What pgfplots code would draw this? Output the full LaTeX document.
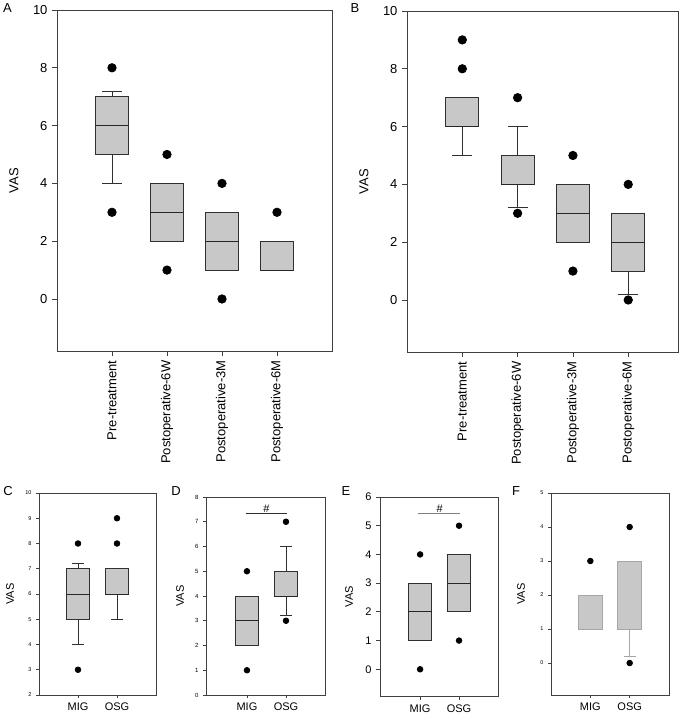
\documentclass[border=0pt]{standalone}
\usepackage{fontspec}
\setmainfont{Liberation Sans}
\usepackage{pgfplots}
\pgfplotsset{compat=1.18}
\usepgfplotslibrary{statistics}
\definecolor{boxfill}{HTML}{C8C8C8}
\definecolor{boxdraw}{HTML}{303030}
\definecolor{axisgray}{HTML}{404040}
\pgfplotsset{
  panel/.style={
    scale only axis, clip=false,
    axis line style={draw=axisgray, line width=0.8pt},
    tick style={draw=axisgray, line width=0.8pt},
    major tick length=5pt, tick align=outside,
    xtick pos=left, ytick pos=left,
    /pgf/number format/assume math mode=true,
    xtick={0,1,2,3},
    every axis y label/.style={at={(axis description cs:0,0.5)}, rotate=90, anchor=center},
  },
  mybox/.style={
    solid, draw=boxdraw, line width=0.8pt,
    mark=*, mark size=4.2pt, mark options={fill=black, draw=black, solid},
  },
  smallbox/.style={mybox, mark size=2.8pt},
  boxplot/bx/.style={
    draw direction=y,
    box extend=0.6, whisker extend=0.36,
    every box/.style={fill=boxfill, draw=boxdraw, line width=0.9pt},
    every median/.style={draw=black!85, line width=0.8pt},
    every whisker/.style={draw=boxdraw, line width=0.8pt},
  },
  boxplot/sbx/.style={bx, whisker extend=0.3},
  boxplot/fbx/.style={bx, whisker extend=0.3,
    every box/.style={fill=boxfill, draw=gray!70, line width=0.8pt},
    every whisker/.style={draw=gray!70, line width=0.8pt},
    every median/.style={draw=gray!70, line width=0.8pt},
  },
}
\begin{document}
\begin{tikzpicture}
\useasboundingbox (0pt,0pt) rectangle (688pt,720pt);
\fontsize{13}{15}\selectfont
% panel letters
\node at (7.5pt,712pt) {A};
\node at (355pt,712pt) {B};
\node at (8pt,229pt) {C};
\node at (176pt,229pt) {D};
\node at (346pt,229pt) {E};
\node at (516pt,229pt) {F};

% ---------- A ----------
\begin{axis}[panel, at={(57pt,369pt)}, anchor=south west,
  width=275pt, height=341pt, xmin=-1, xmax=4, ymin=-1.8, ymax=10,
  ytick={0,2,4,6,8,10},
  xticklabels={Pre-treatment,Postoperative-6W,Postoperative-3M,Postoperative-6M},
  xticklabel style={rotate=90, anchor=east, font=\fontsize{13}{15}\selectfont},
  yticklabel style={font=\fontsize{13}{15}\selectfont},
  ylabel={VAS}, ylabel style={yshift=43pt, font=\fontsize{13}{15}\selectfont}]
\addplot[mybox, boxplot prepared={bx, draw position=0, lower whisker=4, lower quartile=5, median=6, upper quartile=7, upper whisker=7.2}] coordinates {(0,3) (0,8)};
\addplot[mybox, boxplot prepared={bx, draw position=1, lower whisker=2, lower quartile=2, median=3, upper quartile=4, upper whisker=4}] coordinates {(1,1) (1,5)};
\addplot[mybox, boxplot prepared={bx, draw position=2, lower whisker=1, lower quartile=1, median=2, upper quartile=3, upper whisker=3}] coordinates {(2,0) (2,4)};
\addplot[mybox, boxplot prepared={bx, draw position=3, lower whisker=1, lower quartile=1, median=1, upper quartile=2, upper whisker=2}] coordinates {(3,3)};
\end{axis}

% ---------- B ----------
\begin{axis}[panel, at={(407pt,368pt)}, anchor=south west,
  width=271pt, height=341pt, xmin=-1, xmax=3.9, ymin=-1.8, ymax=10,
  ytick={0,2,4,6,8,10},
  xticklabels={Pre-treatment,Postoperative-6W,Postoperative-3M,Postoperative-6M},
  xticklabel style={rotate=90, anchor=east, font=\fontsize{13}{15}\selectfont},
  yticklabel style={font=\fontsize{13}{15}\selectfont},
  ylabel={VAS}, ylabel style={yshift=43pt, font=\fontsize{13}{15}\selectfont}]
\addplot[mybox, boxplot prepared={bx, draw position=0, lower whisker=5, lower quartile=6, median=6, upper quartile=7, upper whisker=7}] coordinates {(0,8) (0,9)};
\addplot[mybox, boxplot prepared={bx, draw position=1, lower whisker=3.2, lower quartile=4, median=4, upper quartile=5, upper whisker=6}] coordinates {(1,3) (1,7)};
\addplot[mybox, boxplot prepared={bx, draw position=2, lower whisker=2, lower quartile=2, median=3, upper quartile=4, upper whisker=4}] coordinates {(2,1) (2,5)};
\addplot[mybox, boxplot prepared={bx, draw position=3, lower whisker=0.2, lower quartile=1, median=2, upper quartile=3, upper whisker=3}] coordinates {(3,0) (3,4)};
\end{axis}

% ---------- C ----------
\begin{axis}[panel, at={(39pt,25pt)}, anchor=south west,
  width=117pt, height=202pt, xmin=-1, xmax=2, ymin=2, ymax=10,
  ytick={2,3,...,10}, major tick length=3pt,
  xtick={0,1}, xticklabels={MIG,OSG},
  xticklabel style={font=\fontsize{11}{13}\selectfont},
  yticklabel style={font=\fontsize{5.5}{7}\selectfont},
  ylabel={VAS}, ylabel style={yshift=29pt, font=\fontsize{11}{13}\selectfont}]
\addplot[smallbox, boxplot prepared={sbx, draw position=0, lower whisker=4, lower quartile=5, median=6, upper quartile=7, upper whisker=7.2}] coordinates {(0,3) (0,8)};
\addplot[smallbox, boxplot prepared={sbx, draw position=1, lower whisker=5, lower quartile=6, median=6, upper quartile=7, upper whisker=7}] coordinates {(1,8) (1,9)};
\end{axis}

% ---------- D ----------
\begin{axis}[panel, at={(206pt,25pt)}, anchor=south west,
  width=119pt, height=198pt, xmin=-1.05, xmax=2, ymin=0, ymax=8,
  ytick={0,1,...,8}, major tick length=3pt,
  xtick={0,1}, xticklabels={MIG,OSG},
  xticklabel style={font=\fontsize{11}{13}\selectfont},
  yticklabel style={font=\fontsize{6}{7}\selectfont},
  ylabel={VAS}, ylabel style={yshift=26pt, font=\fontsize{11}{13}\selectfont}]
\addplot[smallbox, boxplot prepared={sbx, draw position=0, lower whisker=2, lower quartile=2, median=3, upper quartile=4, upper whisker=4}] coordinates {(0,1) (0,5)};
\addplot[smallbox, boxplot prepared={sbx, draw position=1, lower whisker=3.2, lower quartile=4, median=4, upper quartile=5, upper whisker=6}] coordinates {(1,3) (1,7)};
\addplot[draw=boxdraw, line width=0.8pt, no marks] coordinates {(-0.02,7.32) (1.02,7.32)};
\node[above, inner sep=1pt, font=\fontsize{11}{13}\selectfont] at (axis cs:0.5,7.32) {\#};
\end{axis}

% ---------- E ----------
\begin{axis}[panel, at={(380pt,24pt)}, anchor=south west,
  width=118pt, height=199pt, xmin=-1.03, xmax=2, ymin=-0.93, ymax=6,
  ytick={0,1,...,6}, major tick length=4pt,
  xtick={0,1}, xticklabels={MIG,OSG},
  xticklabel style={font=\fontsize{11}{13}\selectfont},
  yticklabel style={font=\fontsize{11}{13}\selectfont},
  ylabel={VAS}, ylabel style={yshift=31pt, font=\fontsize{11}{13}\selectfont}]
\addplot[smallbox, boxplot prepared={sbx, draw position=0, lower whisker=1, lower quartile=1, median=2, upper quartile=3, upper whisker=3}] coordinates {(0,0) (0,4)};
\addplot[smallbox, boxplot prepared={sbx, draw position=1, lower whisker=2, lower quartile=2, median=3, upper quartile=4, upper whisker=4}] coordinates {(1,1) (1,5)};
\addplot[draw=gray, line width=0.8pt, no marks] coordinates {(-0.05,5.43) (1.02,5.43)};
\node[above, inner sep=1pt, font=\fontsize{11}{13}\selectfont] at (axis cs:0.5,5.43) {\#};
\end{axis}

% ---------- F ----------
\begin{axis}[panel, at={(551pt,25pt)}, anchor=south west,
  width=118pt, height=202pt, xmin=-1, xmax=2, ymin=-0.94, ymax=5,
  ytick={0,1,...,5}, major tick length=3pt,
  xtick={0,1}, xticklabels={MIG,OSG},
  xticklabel style={font=\fontsize{11}{13}\selectfont},
  yticklabel style={font=\fontsize{5.5}{7}\selectfont},
  ylabel={VAS}, ylabel style={yshift=30pt, font=\fontsize{11}{13}\selectfont}]
\addplot[smallbox, boxplot prepared={fbx, draw position=0, lower whisker=1, lower quartile=1, median=1, upper quartile=2, upper whisker=2}] coordinates {(0,3)};
\addplot[smallbox, boxplot prepared={fbx, draw position=1, lower whisker=0.2, lower quartile=1, median=1, upper quartile=3, upper whisker=3}] coordinates {(1,0) (1,4)};
\end{axis}
\end{tikzpicture}
\end{document}
